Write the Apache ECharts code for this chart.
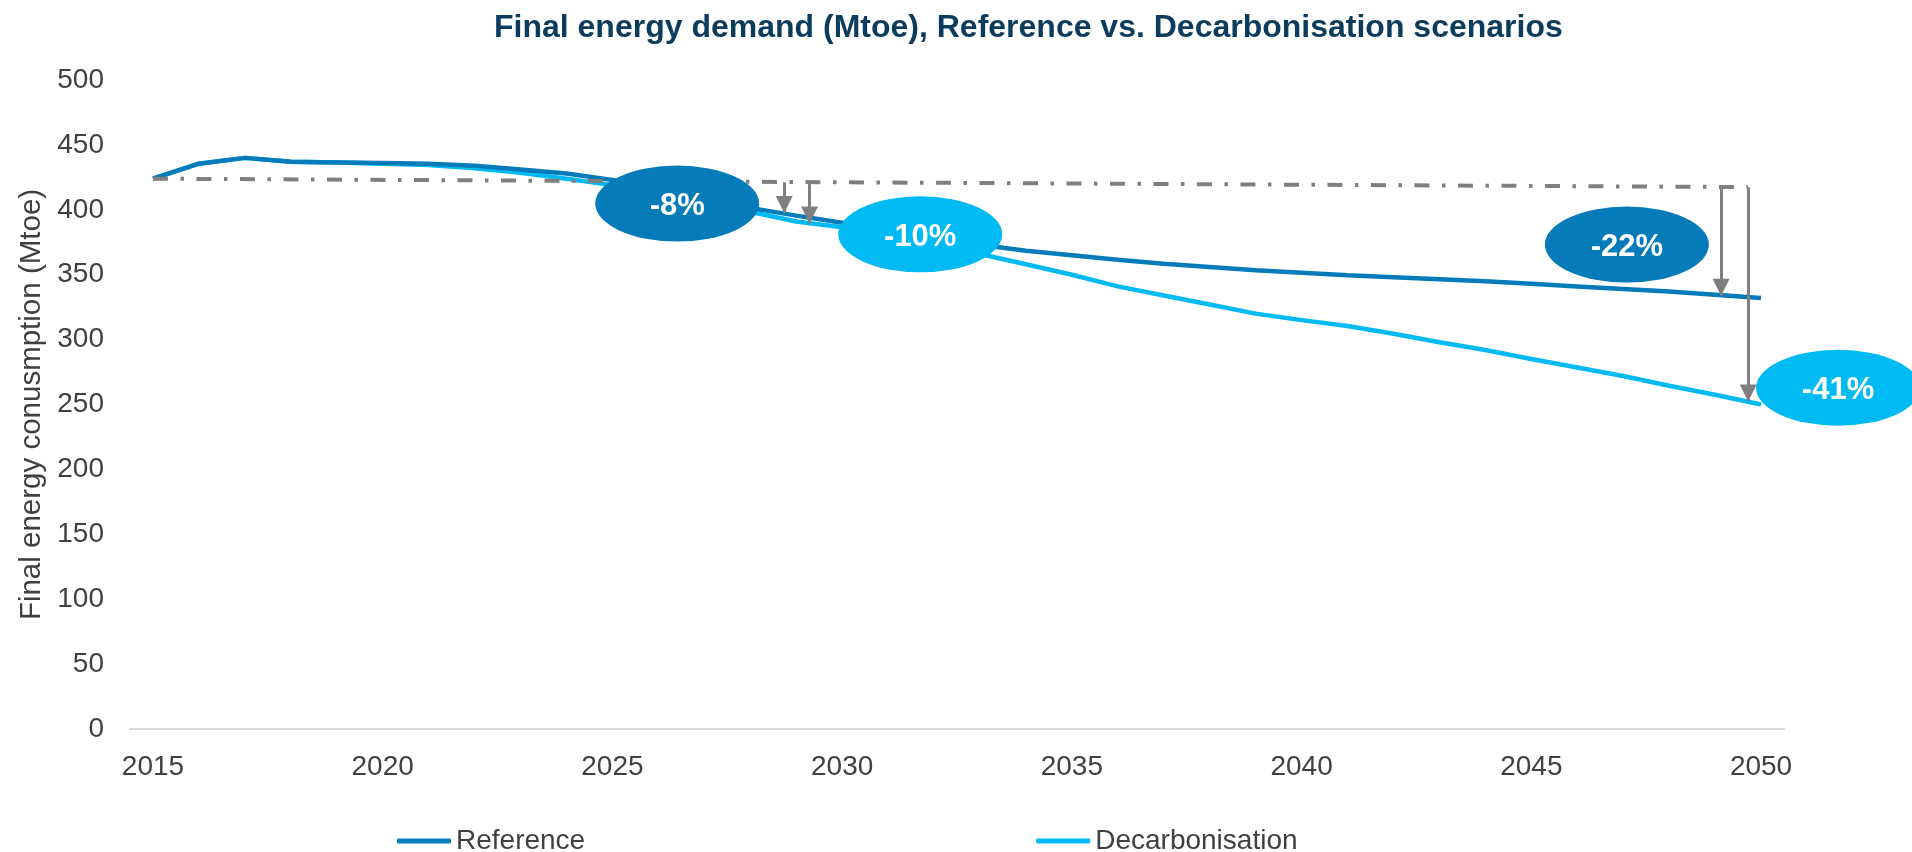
<!DOCTYPE html>
<html>
<head>
<meta charset="utf-8">
<title>Final energy demand (Mtoe)</title>
<script src="https://cdn.jsdelivr.net/npm/echarts@6.0.0/dist/echarts.min.js"></script>
<style>
  html, body { margin: 0; padding: 0; background: #ffffff; }
  #chart { width: 1912px; height: 852px; }
</style>
</head>
<body>
<div id="chart"></div>
<script>
// yearly values (Mtoe)
const years = [2015, 2016, 2017, 2018, 2019, 2020, 2021, 2022, 2023, 2024,
               2025, 2026, 2027, 2028, 2029, 2030, 2031, 2032, 2033, 2034,
               2035, 2036, 2037, 2038, 2039, 2040, 2041, 2042, 2043, 2044,
               2045, 2046, 2047, 2048, 2049, 2050];
const referenceValues = [424, 435.5, 440, 437, 436.5, 436, 435.5, 434, 431, 428,
                         423, 416.5, 408.5, 401.5, 395.5, 390, 384, 378, 373, 368.5,
                         365, 361.5, 358.5, 356, 353.5, 351.5, 349.5, 348, 346.5, 345,
                         343, 341, 339, 337, 334.5, 332];
const decarbonisationValues = [424, 435.5, 440, 437, 436.5, 435.5, 434.5, 432, 428.5, 424,
                               419, 413, 405.5, 398.5, 391, 386.5, 380, 373, 366, 358,
                               350, 341, 334, 327, 320, 315, 310.5, 304.5, 298, 292,
                               285, 278.5, 272, 264.5, 257.5, 250];
const yearTicks = [2015, 2020, 2025, 2030, 2035, 2040, 2045, 2050];

// 2015 level carried forward (dash-dot line)
const baselineFrom = [2015, 424];
const baselineTo = [2049.72, 417.5];

// drop arrows: [x, from, to]
const arrowX = [2028.74, 2029.29, 2049.13, 2049.72];
const arrowFrom = [421.2, 421.4, 416.8, 417.3];
const arrowTo = [397.5, 389.5, 333.8, 252.3];

// reduction bubbles
const bubbleText = ['-8%', '-10%', '-22%', '-41%'];
const bubbleX = [2026.41, 2031.7, 2047.08, 2050];
const bubbleY = [404.8, 381.1, 373.2, 262.9];
const bubbleShift = [0, 0, 0, 77];

const darkBlue = '#057cb9';
const lightBlue = '#00bbf3';
const grey = '#7f7f7f';
const textGrey = '#404040';

const chart = echarts.init(document.getElementById('chart'));

function pairs(xs, ys) {
    return xs.map((x, i) => [x, ys[i]]);
}

const ellipse = 'path://M0 50A50 50 0 1 0 100 50A50 50 0 1 0 0 50Z';

const option = {
    animation: false,
    backgroundColor: '#ffffff',
    title: {
        text: 'Final energy demand (Mtoe), Reference vs. Decarbonisation scenarios',
        left: 489,
        top: 7,
        textStyle: {
            fontFamily: 'Liberation Sans',
            fontSize: 32,
            fontWeight: 'bold',
            color: '#0b3c5d'
        }
    },
    legend: {
        data: ['Reference', 'Decarbonisation'],
        left: 392,
        top: 822,
        itemGap: 451,
        itemWidth: 54,
        itemHeight: 5,
        icon: 'roundRect',
        textStyle: {
            fontFamily: 'Liberation Sans',
            fontSize: 28,
            color: textGrey
        }
    },
    grid: {
        left: 130,
        right: 128,
        top: 80,
        bottom: 123,
        outerBoundsMode: 'none'
    },
    xAxis: {
        type: 'value',
        min: 2014.5,
        max: 2050.5,
        splitLine: { show: false },
        axisLine: { show: true, onZero: false, lineStyle: { color: '#d9d9d9', width: 2 } },
        axisTick: { show: false },
        axisLabel: {
            customValues: yearTicks,
            formatter: v => String(v),
            margin: 24,
            fontFamily: 'Liberation Sans',
            fontSize: 28,
            color: textGrey
        }
    },
    yAxis: {
        type: 'value',
        min: 0,
        max: 500,
        interval: 50,
        name: 'Final energy conusmption (Mtoe)',
        nameLocation: 'middle',
        nameRotate: 90,
        nameGap: 80,
        nameTextStyle: {
            fontFamily: 'Liberation Sans',
            fontSize: 29.5,
            color: textGrey
        },
        splitLine: { show: false },
        axisLine: { show: false },
        axisTick: { show: false },
        axisLabel: {
            margin: 26,
            fontFamily: 'Liberation Sans',
            fontSize: 28,
            color: textGrey
        }
    },
    series: [
        {
            name: 'Reference',
            type: 'line',
            data: pairs(years, referenceValues),
            symbol: 'none',
            lineStyle: { color: darkBlue, width: 4.5 },
            itemStyle: { color: darkBlue },
            z: 3,
            // dash-dot baseline + arrows
            markLine: {
                silent: true,
                symbol: ['none', 'triangle'],
                symbolSize: [17, 17],
                symbolOffset: [0, [0, 8.5]],
                label: { show: false },
                emphasis: { disabled: true },
                lineStyle: { color: grey, width: 3, type: 'solid' },
                data: [
                    [
                        { coord: baselineFrom, symbol: 'none', lineStyle: { type: [15, 12.5, 3.5, 12.5], width: 4 } },
                        { coord: baselineTo, symbol: 'none' }
                    ]
                ].concat(arrowX.map((x, i) => [
                    { coord: [x, arrowFrom[i]] },
                    { coord: [x, arrowTo[i]] }
                ]))
            }
        },
        {
            name: 'Decarbonisation',
            type: 'line',
            data: pairs(years, decarbonisationValues),
            symbol: 'none',
            lineStyle: { color: lightBlue, width: 4.5 },
            itemStyle: { color: lightBlue },
            z: 2,
            markPoint: {
                silent: true,
                symbol: ellipse,
                symbolSize: [164, 76],
                label: {
                    show: true,
                    position: 'inside',
                    formatter: '{b}',
                    offset: [0, 3],
                    fontFamily: 'Liberation Sans',
                    fontSize: 31,
                    fontWeight: 'bold',
                    color: '#ffffff'
                },
                data: bubbleText.map((t, i) => ({
                    name: t,
                    coord: [bubbleX[i], bubbleY[i]],
                    symbolOffset: [bubbleShift[i], 0],
                    itemStyle: { color: i % 2 === 0 ? darkBlue : lightBlue }
                }))
            }
        }
    ]
};

chart.setOption(option);
</script>
</body>
</html>
